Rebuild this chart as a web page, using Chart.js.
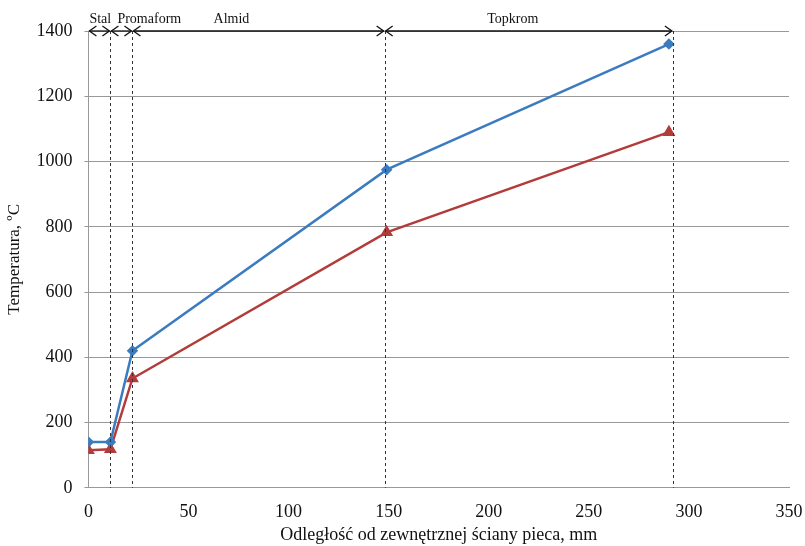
<!DOCTYPE html>
<html>
<head>
<meta charset="utf-8">
<script src="https://cdn.jsdelivr.net/npm/chart.js@4"></script>
<style>
  html, body { margin: 0; padding: 0; background: #fff; }
  #wrap { width: 805px; height: 546px; }
</style>
</head>
<body>
<div id="wrap"><canvas id="chart"></canvas></div>
<script>
// distance from outer furnace wall, mm
const distances = [0, 11, 22, 149, 290];
const tempBlue = [140, 140, 420, 975, 1360];
const tempRed = [115, 118, 335, 783, 1090];

// layer boundaries (mm) and names shown along the top
const layerBounds = [0, 11, 22, 148, 292];
const layerNames = ['Stal', 'Promaform', 'Almid', 'Topkrom'];

const xTicks = [0, 50, 100, 150, 200, 250, 300, 350];
const yTicks = [0, 200, 400, 600, 800, 1000, 1200, 1400];

const serif = '"Liberation Serif", "DejaVu Serif", serif';

function pts(vals){
    return distances.map((d, i) => ({x: d, y: vals[i]}));
}

function arrowHead(ctx, x, y, dir){
    ctx.beginPath();
    ctx.moveTo(x + dir * 7, y - 5);
    ctx.lineTo(x, y);
    ctx.lineTo(x + dir * 7, y + 5);
    ctx.stroke();
}

const layerPlugin = {
    id: 'layers',
    afterDatasetsDraw(chart){
        const ctx = chart.ctx;
        const xs = chart.scales.x, ys = chart.scales.y;
        const top = ys.getPixelForValue(1400);
        const bottom = ys.getPixelForValue(0);
        ctx.save();
        // dashed boundary lines
        ctx.strokeStyle = '#333';
        ctx.lineWidth = 1;
        ctx.setLineDash([3, 3]);
        layerBounds.slice(1).forEach(b => {
            const px = Math.round(xs.getPixelForValue(b)) + 0.5;
            ctx.beginPath();
            ctx.moveTo(px, top);
            ctx.lineTo(px, bottom);
            ctx.stroke();
        });
        ctx.setLineDash([]);
        // double arrows + names
        ctx.strokeStyle = '#111';
        ctx.lineWidth = 1.3;
        ctx.fillStyle = '#111';
        ctx.font = '14px ' + serif;
        ctx.textBaseline = 'bottom';
        const y = top;
        for (let i = 0; i < layerNames.length; i++){
            const x1 = xs.getPixelForValue(layerBounds[i]);
            const x2 = xs.getPixelForValue(layerBounds[i + 1]);
            ctx.beginPath();
            ctx.moveTo(x1 + 1, y);
            ctx.lineTo(x2 - 1, y);
            ctx.stroke();
            arrowHead(ctx, x1 + 1, y, 1);
            arrowHead(ctx, x2 - 1, y, -1);
            let tx = (x1 + x2) / 2;
            ctx.textAlign = 'center';
            if (i === 0){ tx = x1 + 1; ctx.textAlign = 'left'; }
            if (i === 1){ tx = x1 + 7; ctx.textAlign = 'left'; }
            if (i === 2){ tx = x1 + 99; }
            if (i === 3){ tx -= 16; }
            ctx.fillText(layerNames[i], tx, y - 5);
        }
        ctx.restore();
    }
};

new Chart(document.getElementById('chart').getContext('2d'), {
    type: 'line',
    data: {
        datasets: [{
            data: pts(tempBlue),
            borderColor: '#3b7bbf',
            backgroundColor: '#3b7bbf',
            borderWidth: 2.5,
            pointStyle: 'rectRot',
            pointRadius: 4,
            tension: 0
        }, {
            data: pts(tempRed),
            borderColor: '#b23c3a',
            backgroundColor: '#b23c3a',
            borderWidth: 2.5,
            pointStyle: 'triangle',
            pointRadius: 5,
            tension: 0
        }]
    },
    options: {
        responsive: true,
        maintainAspectRatio: false,
        animation: false,
        layout: { padding: { top: 31, right: 16, left: 0, bottom: 0 } },
        plugins: {
            legend: { display: false },
            tooltip: { enabled: false }
        },
        scales: {
            x: {
                type: 'linear',
                min: 0,
                max: 350,
                afterBuildTicks: axis => { axis.ticks = xTicks.map(v => ({value: v})); },
                afterFit: axis => { axis.paddingRight = 0; },
                grid: { display: false, drawOnChartArea: false, drawTicks: true, tickLength: 4, color: '#999' },
                border: { display: true, color: '#999' },
                ticks: { color: '#111', font: { family: serif, size: 18 }, padding: 10, maxRotation: 0, callback: v => String(v) },
                title: { display: true, text: 'Odległość od zewnętrznej ściany pieca, mm', color: '#111', font: { family: serif, size: 18 }, padding: { top: -9, bottom: 0 } }
            },
            y: {
                min: 0,
                max: 1400,
                afterBuildTicks: axis => { axis.ticks = yTicks.map(v => ({value: v})); },
                grid: { color: '#999', lineWidth: 1, tickLength: 4 },
                border: { display: true, color: '#999' },
                ticks: { color: '#111', font: { family: serif, size: 18 }, padding: 12, callback: v => String(v) },
                title: { display: true, text: 'Temperatura, ºC', color: '#111', font: { family: serif, size: 17 }, padding: { top: 4, bottom: 0 } }
            }
        }
    },
    plugins: [layerPlugin]
});
</script>
</body>
</html>
